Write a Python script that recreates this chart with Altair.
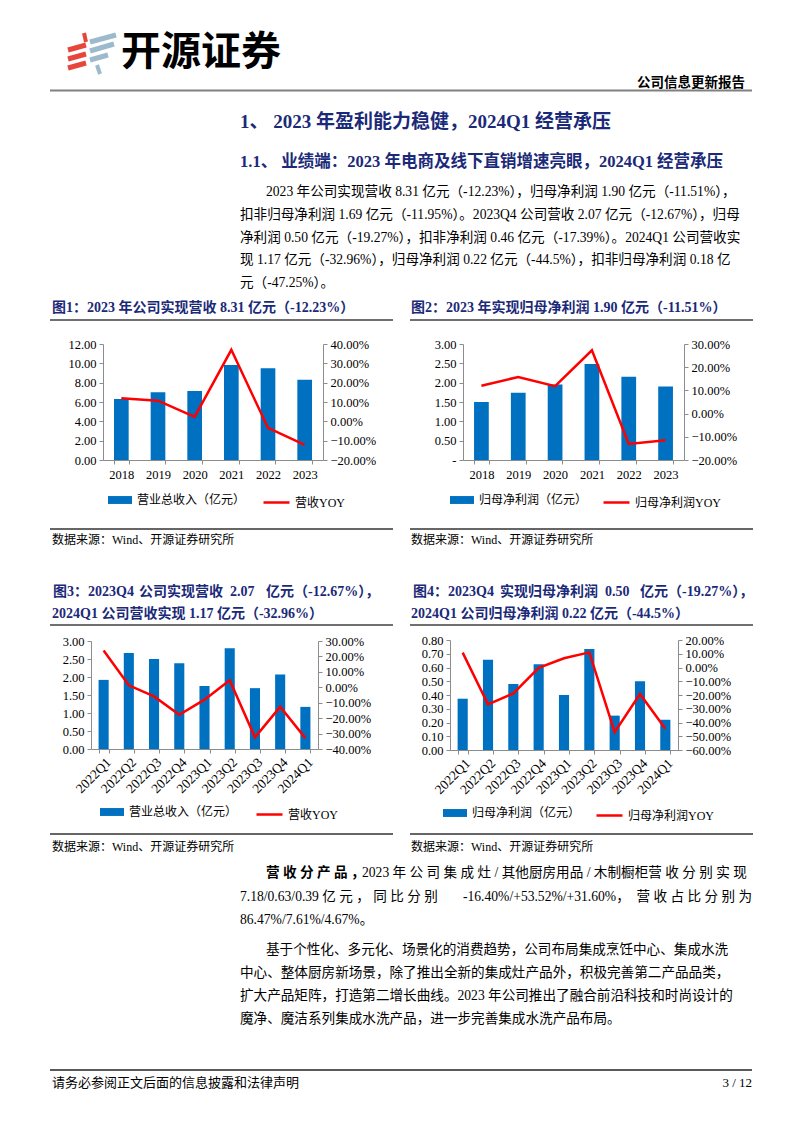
import altair as alt
import pandas as pd

# ---------------- data ----------------
years = ["2018", "2019", "2020", "2021", "2022", "2023"]
revenue_year = [6.31, 7.00, 7.13, 9.82, 9.50, 8.31]
revenue_year_yoy = [0.119, 0.107, 0.023, 0.370, -0.034, -0.1223]
profit_year = [1.50, 1.74, 1.95, 2.48, 2.15, 1.90]
profit_year_yoy = [0.120, 0.158, 0.118, 0.273, -0.131, -0.1151]

quarters = ["2022Q1", "2022Q2", "2022Q3", "2022Q4", "2023Q1",
            "2023Q2", "2023Q3", "2023Q4", "2024Q1"]
revenue_q = [1.92, 2.67, 2.50, 2.38, 1.75, 2.80, 1.69, 2.07, 1.17]
revenue_q_yoy = [0.238, 0.013, -0.059, -0.178, -0.080, 0.046, -0.324, -0.1267, -0.3296]
profit_q = [0.373, 0.657, 0.480, 0.623, 0.400, 0.735, 0.250, 0.500, 0.220]
profit_q_yoy = [0.108, -0.268, -0.188, -0.002, 0.067, 0.110, -0.470, -0.1927, -0.445]

c1_left_ticks = [0, 2, 4, 6, 8, 10, 12]
c1_right_ticks = [-0.2, -0.1, 0.0, 0.1, 0.2, 0.3, 0.4]
c2_left_ticks = [0, 0.5, 1.0, 1.5, 2.0, 2.5, 3.0]
c2_right_ticks = [-0.2, -0.1, 0.0, 0.1, 0.2, 0.3]
c3_left_ticks = [0, 0.5, 1.0, 1.5, 2.0, 2.5, 3.0]
c3_right_ticks = [-0.4, -0.3, -0.2, -0.1, 0.0, 0.1, 0.2, 0.3]
c4_left_ticks = [0, 0.1, 0.2, 0.3, 0.4, 0.5, 0.6, 0.7, 0.8]
c4_right_ticks = [-0.6, -0.5, -0.4, -0.3, -0.2, -0.1, 0.0, 0.1, 0.2]

# ---------------- texts ----------------
logo_text = "开源证券"
report_type = "公司信息更新报告"
h1 = "1、 2023 年盈利能力稳健，2024Q1 经营承压"
h2 = "1.1、 业绩端：2023 年电商及线下直销增速亮眼，2024Q1 经营承压"
para1 = [
    "2023 年公司实现营收 8.31 亿元（-12.23%），归母净利润 1.90 亿元（-11.51%），",
    "扣非归母净利润 1.69 亿元（-11.95%）。2023Q4 公司营收 2.07 亿元（-12.67%），归母",
    "净利润 0.50 亿元（-19.27%），扣非净利润 0.46 亿元（-17.39%）。2024Q1 公司营收实",
    "现 1.17 亿元（-32.96%），归母净利润 0.22 亿元（-44.5%），扣非归母净利润 0.18 亿",
    "元（-47.25%）。",
]
fig1_title = "图1：2023 年公司实现营收 8.31 亿元（-12.23%）"
fig2_title = "图2：2023 年实现归母净利润 1.90 亿元（-11.51%）"
fig3_line1 = ["图3：2023Q4", "公司实现营收", "2.07", "亿元（-12.67%），"]
fig3_line2 = "2024Q1 公司营收实现 1.17 亿元（-32.96%）"
fig4_line1 = ["图4：2023Q4", "实现归母净利润", "0.50", "亿元（-19.27%），"]
fig4_line2 = "2024Q1 公司归母净利润 0.22 亿元（-44.5%）"
source = "数据来源：Wind、开源证券研究所"
para2_bold = "营 收 分 产 品 ，"
para2_line1 = "2023 年 公 司 集 成 灶 / 其他厨房用品 / 木制橱柜营 收 分 别 实 现"
para2_line2 = ["7.18/0.63/0.39  亿 元 ， 同 比 分 别", "-16.40%/+53.52%/+31.60%，", "营 收 占 比 分 别 为"]
para2_line3 = "86.47%/7.61%/4.67%。"
para3 = [
    "基于个性化、多元化、场景化的消费趋势，公司布局集成烹饪中心、集成水洗",
    "中心、整体厨房新场景，除了推出全新的集成灶产品外，积极完善第二产品品类，",
    "扩大产品矩阵，打造第二增长曲线。2023 年公司推出了融合前沿科技和时尚设计的",
    "魔净、魔洁系列集成水洗产品，进一步完善集成水洗产品布局。",
]
footer = "请务必参阅正文后面的信息披露和法律声明"
page_no = "3 / 12"

# ---------------- style ----------------
W, H = 786, 1117
M = 8  # page margin
FONT = "Liberation Serif, Noto Sans CJK SC, serif"
NAVY = "#1B2A78"
BLUE = "#0070C0"
RED = "#FF0000"
AXC = "#8C8C8C"

ONE = alt.Data(values=[{}])


def txt(s, x, y, size=13.6, weight="normal", color="black", align="left", font=FONT):
    return alt.Chart(ONE).mark_text(
        text=s, font=font, fontSize=size, fontWeight=weight, color=color,
        align=align, baseline="middle"
    ).encode(x=alt.value(x - M), y=alt.value(y - M))


def hline(x0, x1, y, color="#333333", width=1.5):
    return alt.Chart(ONE).mark_rule(color=color, strokeWidth=width).encode(
        x=alt.value(x0 - M), x2=alt.value(x1 - M), y=alt.value(y - M))


def seg(x0, y0, x1, y1, color, width=5):
    return alt.Chart(ONE).mark_rule(color=color, strokeWidth=width, strokeCap="butt").encode(
        x=alt.value(x0 - M), x2=alt.value(x1 - M), y=alt.value(y0 - M), y2=alt.value(y1 - M))


def dual(cats, bars, yoy, bar_name, line_name, box, ldom, lticks, rdom, rticks,
         angle, leg_bar, leg_line, zero_dash=False):
    x0, x1, y0, y1 = [v - M for v in box]
    df = pd.DataFrame({"cat": cats, "val": bars, "yoy": yoy,
                       "bname": [bar_name] * len(cats), "lname": [line_name] * len(cats)})

    def xscale():
        return alt.Scale(type="band", domain=cats, range=[x0, x1],
                         paddingInner=0.6, paddingOuter=0.3)

    if zero_dash:
        lexpr = "datum.value == 0 ? '-' : format(datum.value, '.2f')"
    else:
        lexpr = "format(datum.value, '.2f')"

    axis_common = dict(title=None, grid=False, labelFont=FONT, labelColor="black",
                       domainColor=AXC, tickColor=AXC, tickSize=4)
    bar = alt.Chart(df).mark_bar().encode(
        x=alt.X("cat:N", sort=None, scale=xscale(),
                axis=alt.Axis(orient="bottom", offset=y1 - H, labelAngle=angle,
                              tickBand="extent", labelPadding=4 if angle == 0 else 2,
                              labelFontSize=12.5 if angle == 0 else 13.5,
                              **axis_common)),
        y=alt.Y("val:Q", scale=alt.Scale(domain=ldom, range=[y1, y0], nice=False, zero=True),
                axis=alt.Axis(orient="left", offset=-x0, values=lticks, labelExpr=lexpr,
                              labelPadding=3, labelFontSize=12.5, **axis_common)),
        color=alt.Color(
            "bname:N", scale=alt.Scale(domain=[bar_name], range=[BLUE]),
            legend=alt.Legend(orient="none", legendX=leg_bar[0] - M, legendY=leg_bar[1] - M - 12,
                              title=None, labelFont=FONT, labelFontSize=12, labelColor="black",
                              symbolType="M-1,-0.33H1V0.33H-1Z", symbolSize=576,
                              symbolStrokeWidth=0, labelOffset=5, padding=0)),
    )
    line = alt.Chart(df).mark_line(strokeWidth=2.5).encode(
        x=alt.X("cat:N", sort=None, scale=xscale(), axis=None),
        y=alt.Y("yoy:Q", scale=alt.Scale(domain=rdom, range=[y1, y0], nice=False, zero=False),
                axis=alt.Axis(orient="right", offset=x1 - W, values=rticks, format=".2%",
                              labelPadding=3, labelFontSize=12.5, **axis_common)),
        color=alt.Color(
            "lname:N", scale=alt.Scale(domain=[line_name], range=[RED]),
            legend=alt.Legend(orient="none", legendX=leg_line[0] - M, legendY=leg_line[1] - M - 12,
                              title=None, labelFont=FONT, labelFontSize=12, labelColor="black",
                              symbolType="stroke", symbolSize=676, symbolStrokeWidth=2.5,
                              labelOffset=4, padding=0)),
    )
    return [bar, line]


layers = []

# header
layers += [
    seg(68, 50, 86, 45, "#E8463A"), seg(68, 59, 86, 54, "#E8463A"), seg(68, 68, 86, 63, "#E8463A"),
    seg(84, 33, 86, 42, "#E8463A", 4),
    seg(90, 42, 116, 35, "#9CBACB"), seg(90, 51, 114, 44, "#9CBACB"), seg(90, 60, 108, 55, "#9CBACB"),
    seg(97, 65, 100, 74, "#9CBACB", 4),
    txt(logo_text, 121, 53, size=40, weight="bold", font="Noto Sans CJK SC"),
    txt(report_type, 745, 83, size=13.5, weight="bold", align="right"),
    hline(50, 752, 90.5, color="#808080", width=2),
    txt(h1, 240, 122, size=19, weight="bold", color=NAVY),
    txt(h2, 240, 162, size=16.5, weight="bold", color=NAVY),
]
para1_y = [192, 215, 238, 260, 283]
for i, (s, y) in enumerate(zip(para1, para1_y)):
    layers.append(txt(s, 266 if i == 0 else 240, y))

# figure titles 1 & 2
layers += [
    txt(fig1_title, 52, 308, size=14, weight="bold", color=NAVY),
    txt(fig2_title, 411, 308, size=14, weight="bold", color=NAVY),
    hline(50, 393, 320, color="#404040", width=1.5),
    hline(410, 753, 320, color="#404040", width=1.5),
]

layers += dual(years, revenue_year, revenue_year_yoy, "营业总收入（亿元）", "营收YOY",
               (103, 323, 344, 460), [0, 12], c1_left_ticks, [-0.2, 0.4], c1_right_ticks,
               0, (108, 500), (262, 500))
layers += dual(years, profit_year, profit_year_yoy, "归母净利润（亿元）", "归母净利润YOY",
               (463, 684, 344, 460), [0, 3], c2_left_ticks, [-0.2, 0.3], c2_right_ticks,
               0, (450, 500), (602, 500), zero_dash=True)

layers += [
    hline(50, 393, 529), hline(410, 753, 529),
    txt(source, 52, 540, size=12), txt(source, 411, 540, size=12),
]

# figure titles 3 & 4
for s, x in zip(fig3_line1, [53, 139, 230, 266]):
    layers.append(txt(s, x, 592, size=14, weight="bold", color=NAVY))
for s, x in zip(fig4_line1, [413, 500, 605, 640]):
    layers.append(txt(s, x, 592, size=14, weight="bold", color=NAVY))
layers += [
    txt(fig3_line2, 52, 614, size=14, weight="bold", color=NAVY),
    txt(fig4_line2, 411, 614, size=14, weight="bold", color=NAVY),
    hline(50, 393, 625, color="#404040", width=1.5),
    hline(410, 753, 625, color="#404040", width=1.5),
]

layers += dual(quarters, revenue_q, revenue_q_yoy, "营业总收入（亿元）", "营收YOY",
               (91, 318, 641, 749), [0, 3], c3_left_ticks, [-0.4, 0.3], c3_right_ticks,
               -45, (100, 812), (255, 812))
layers += dual(quarters, profit_q, profit_q_yoy, "归母净利润（亿元）", "归母净利润YOY",
               (450, 678, 640, 750), [0, 0.8], c4_left_ticks, [-0.6, 0.2], c4_right_ticks,
               -45, (443, 813), (595, 813))

layers += [
    hline(50, 393, 834), hline(410, 753, 834),
    txt(source, 52, 847, size=12), txt(source, 411, 847, size=12),
]

# paragraph 2
layers.append(txt(para2_bold, 266, 873, weight="bold"))
layers.append(txt(para2_line1, 362, 873))
layers.append(txt(para2_line2[0], 240, 897))
layers.append(txt(para2_line2[1], 463, 897))
layers.append(txt(para2_line2[2], 752, 897, align="right"))
layers.append(txt(para2_line3, 240, 920))
# paragraph 3
for i, (s, y) in enumerate(zip(para3, [950, 973, 996, 1019])):
    layers.append(txt(s, 266 if i == 0 else 240, y))

# footer
layers += [
    hline(50, 752, 1070, color="#222222", width=1.5),
    txt(footer, 52, 1083, size=13),
    txt(page_no, 752, 1083, size=13, align="right"),
]

chart = alt.layer(*layers).resolve_scale(
    x="independent", y="independent", color="independent"
).properties(
    width=W, height=H, padding=0, autosize=alt.AutoSizeParams(type="none")
).configure_view(stroke=None)

chart.save("out.html", embed_options={"renderer": "svg", "actions": False})
